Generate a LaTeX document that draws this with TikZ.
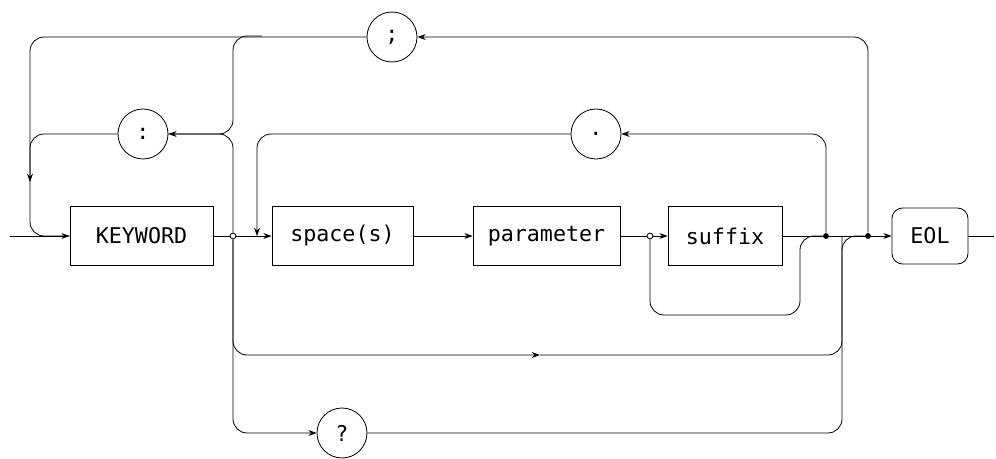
\documentclass[tikz,border=0pt]{standalone}
\usepackage{fontspec}
\setmonofont{DejaVu Sans Mono}
\usetikzlibrary{arrows.meta}

\begin{document}
\begin{tikzpicture}[x=0.03cm, y=-0.03cm, line width=0.7pt,
  >={Stealth[length=7pt,width=5pt]},
  box/.style={draw, minimum height=1.77cm, inner sep=0pt, font=\ttfamily\fontsize{18.5}{20}\selectfont},
  rbox/.style={box, rounded corners=9pt},
  sym/.style={draw, circle, minimum size=1.5cm, inner sep=0pt, font=\ttfamily\fontsize{18.5}{20}\selectfont},
  dot/.style={fill, circle, inner sep=0pt, minimum size=5pt},
  odot/.style={draw, fill=white, circle, inner sep=0pt, minimum size=5pt},
  rail/.style={rounded corners=12pt}]
\useasboundingbox (0,0) rectangle (996,459);

% boxes on the main line
\node[box, minimum width=4.29cm] (kw) at (141.5,236) {KEYWORD};
\node[box, minimum width=4.23cm] (sp) at (342.5,236) {space(s)};
\node[box, minimum width=4.41cm] (par) at (546.5,236) {parameter};
\node[box, minimum width=3.42cm] (suf) at (725,236) {suffix};
\node[rbox, minimum width=2.28cm, minimum height=1.68cm] (eol) at (930,236) {EOL};

% separators
\node[sym] (semi) at (392,37) {;};
\node[sym] (colon) at (143,134) {:};
\node[sym] (period) at (596,134) {.};
\node[sym] (qm) at (342,433) {?};

\coordinate (in) at (10,236);
\coordinate (out) at (994,236);
\coordinate (lv) at (30,182);
\coordinate (tj) at (262,36);
\coordinate (cj) at (233,134);
\coordinate (dj) at (257,236);
\coordinate (ba) at (540,355);
\coordinate (rb) at (842,236);
\coordinate (sb) at (800,315);

% main line
\draw[->] (in) -- (kw);
\draw (kw) -- (233,236) coordinate (m1);
\draw[->] (m1) -- (sp);
\draw[->] (sp) -- (par);
\draw (par) -- (650,236) coordinate (m2);
\draw[->] (m2) -- (suf);
\draw (suf) -- (868,236) coordinate (m4);
\draw[->] (m4) -- (eol);
\draw (eol) -- (out);

% junctions
\node[odot] (d1) at (m1) {};
\node[odot] (d2) at (m2) {};
\node[dot] (d3) at (826,236) {};
\node[dot] (d4) at (m4) {};

% ; loop
\draw[rail, ->] (d4) |- (semi);
\draw[rail] (semi) -| (lv);
\draw[rail] (tj) -| (cj) -- (colon);

% : loop
\draw[rail, ->] (d1) |- (colon);
\draw[rail, ->] (colon) -| (lv);
\draw[rail] (lv) |- (kw);

% . loop
\draw[rail, ->] (d3) |- (period);
\draw[rail, ->] (period) -| (dj);

% suffix skip
\draw[rail] (d2) |- (sb) |- (d3);

% bypass and ?
\draw[rail, ->] (d1) |- (ba);
\draw[rail] (ba) -| (rb) -- (d4);
\draw[rail, ->] (d1) |- (qm);
\draw[rail] (qm) -| (rb);
\end{tikzpicture}
\end{document}
